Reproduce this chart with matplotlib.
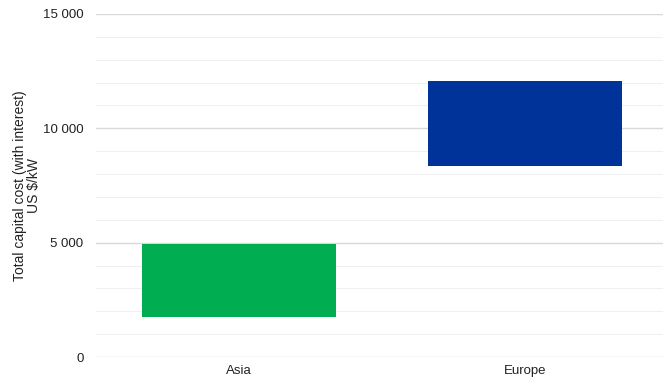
import numpy as np
import matplotlib.pyplot as plt
from matplotlib.ticker import MultipleLocator, FuncFormatter

plt.rcParams['font.family'] = ['Liberation Sans', 'DejaVu Sans']

regions = ["Asia", "Europe"]
cost_low = [1750, 8350]
cost_high = [4950, 12050]
bar_colors = ["#00AE51", "#003399"]

fig = plt.figure(figsize=(6.63, 3.82), dpi=100)
ax = fig.add_axes([96 / 663, 25 / 382, 572 / 663, 343 / 382])

x = np.arange(len(regions))
heights = [h - l for l, h in zip(cost_low, cost_high)]
ax.bar(x, heights, bottom=cost_low, width=0.68, color=bar_colors, zorder=3)

ax.set_xlim(-0.5, 1.5)
ax.set_ylim(0, 15000)
ax.yaxis.set_major_locator(MultipleLocator(5000))
ax.yaxis.set_minor_locator(MultipleLocator(1000))
ax.yaxis.set_major_formatter(FuncFormatter(lambda v, p: f"{int(v):,}".replace(",", " ")))
ax.grid(axis="y", which="major", color="#D9D9D9", lw=1.0, zorder=0)
ax.grid(axis="y", which="minor", color="#F0F0F0", lw=0.8, zorder=0)

ax.set_xticks(x)
ax.set_xticklabels(regions)
ax.tick_params(axis="both", which="both", length=0, labelsize=9.5, colors="#222222")
ax.tick_params(axis="y", pad=9)
ax.tick_params(axis="x", pad=6)
for s in ax.spines.values():
    s.set_visible(False)

ax.set_ylabel("Total capital cost (with interest)\nUS $/kW", fontsize=10, color="#222222", labelpad=1, linespacing=1.05)

fig.savefig("out.png", dpi=100)
